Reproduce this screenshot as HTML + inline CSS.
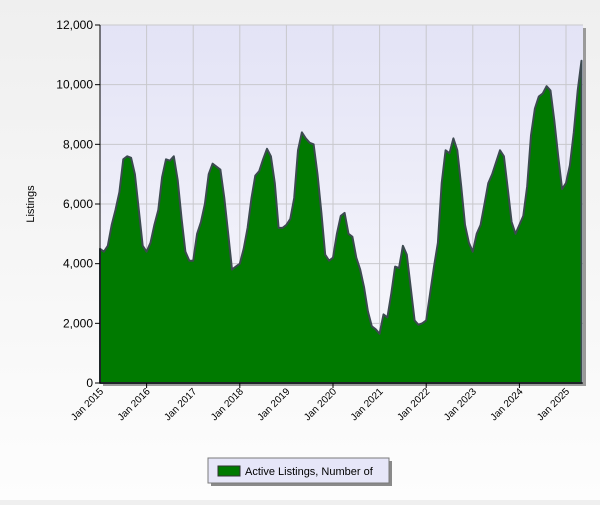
<!DOCTYPE html>
<html><head><meta charset="utf-8"><style>
body{margin:0;width:600px;height:500px;overflow:hidden;background:linear-gradient(#efefef,#fdfdfd);font-family:"Liberation Sans",sans-serif}
</style></head><body>
<svg id="s" width="600" height="500" xmlns="http://www.w3.org/2000/svg" font-family="Liberation Sans, sans-serif">
<defs><linearGradient id="pg" x1="0" y1="0" x2="0" y2="1"><stop offset="0" stop-color="#e3e3f6"/><stop offset="1" stop-color="#f9f9fc"/></linearGradient></defs>
<rect x="103" y="28" width="483" height="358" fill="#9a9a9a"/>
<rect x="100" y="25" width="483" height="358" fill="url(#pg)"/>
<g id="grid" stroke="#c8c8cc" stroke-width="1"></g>
<path id="area" fill="#007a00" stroke="#3c4a50" stroke-width="2" stroke-linejoin="round"/>
<g id="ax" stroke="#000" stroke-width="1"></g>
<g id="lbl" font-size="12" fill="#000"></g>
<text x="34" y="204" font-size="11" transform="rotate(-90 34 204)" text-anchor="middle">Listings</text>
<rect x="211" y="461" width="181" height="25" fill="#8a8a8a"/>
<rect x="208" y="458" width="181" height="25" fill="#e6e6f8" stroke="#7a7a7a"/>
<rect x="218" y="466" width="22" height="10" fill="#007a00" stroke="#333"/>
<text x="245" y="475" font-size="11">Active Listings, Number of</text>
</svg>
<script>
var v=[4500,4400,4600,5300,5800,6400,7500,7600,7550,7000,5800,4600,
4400,4700,5300,5800,6900,7500,7450,7600,6800,5500,4400,4100,
4100,5000,5400,6000,7000,7350,7250,7150,6200,5000,3800,3900,
4000,4500,5200,6200,6950,7100,7500,7850,7600,6700,5200,5200,
5300,5500,6200,7800,8400,8200,8050,8000,7000,5700,4300,4100,
4200,5000,5600,5700,5000,4900,4200,3800,3200,2400,1900,1800,
1650,2300,2200,3000,3900,3850,4600,4300,3200,2100,1950,2000,
2100,3000,3900,4700,6700,7800,7700,8200,7800,6600,5300,4700,
4400,5000,5300,6000,6700,7000,7400,7800,7600,6500,5400,5000,
5300,5600,6600,8300,9200,9600,9700,9950,9800,8800,7600,6500,
6700,7300,8400,9800,10800];
var L=100,T=25,B=383,W=483,py=46.6;
function X(i){return L+i*py/12}function Y(t){return B-t*(B-T)/12000}
var d="M"+L+","+B;v.forEach(function(t,i){d+=" L"+X(i).toFixed(1)+","+Y(t).toFixed(1)});d+=" L"+X(v.length-1).toFixed(1)+","+B+"Z";
document.getElementById('area').setAttribute('d',d);
var g=document.getElementById('grid'),a=document.getElementById('ax'),lb=document.getElementById('lbl'),h='',ah='',lh='';
for(var k=0;k<=6;k++){var y=Y(k*2000);if(k>0)h+='<line x1="100" x2="583" y1="'+y+'" y2="'+y+'"/>';ah+='<line x1="95" x2="100" y1="'+y+'" y2="'+y+'"/>';lh+='<text x="93" y="'+(y+4)+'" text-anchor="end">'+(k?(k*2)+',000':'0')+'</text>';}
for(var yr=0;yr<=10;yr++){var x=L+yr*py;if(yr>0)h+='<line y1="25" y2="383" x1="'+x+'" x2="'+x+'"/>';if(yr%2==1)ah+='<line y1="383" y2="388" x1="'+x+'" x2="'+x+'"/>';lh+='<text font-size="10" text-anchor="end" transform="translate('+(x+4)+',392) rotate(-45)">Jan '+(2015+yr)+'</text>';}
ah+='<line x1="100" x2="100" y1="25" y2="383"/><line x1="100" x2="583" y1="383" y2="383"/>';
g.innerHTML=h;a.innerHTML=ah;lb.innerHTML=lh;
</script>
</body></html>
